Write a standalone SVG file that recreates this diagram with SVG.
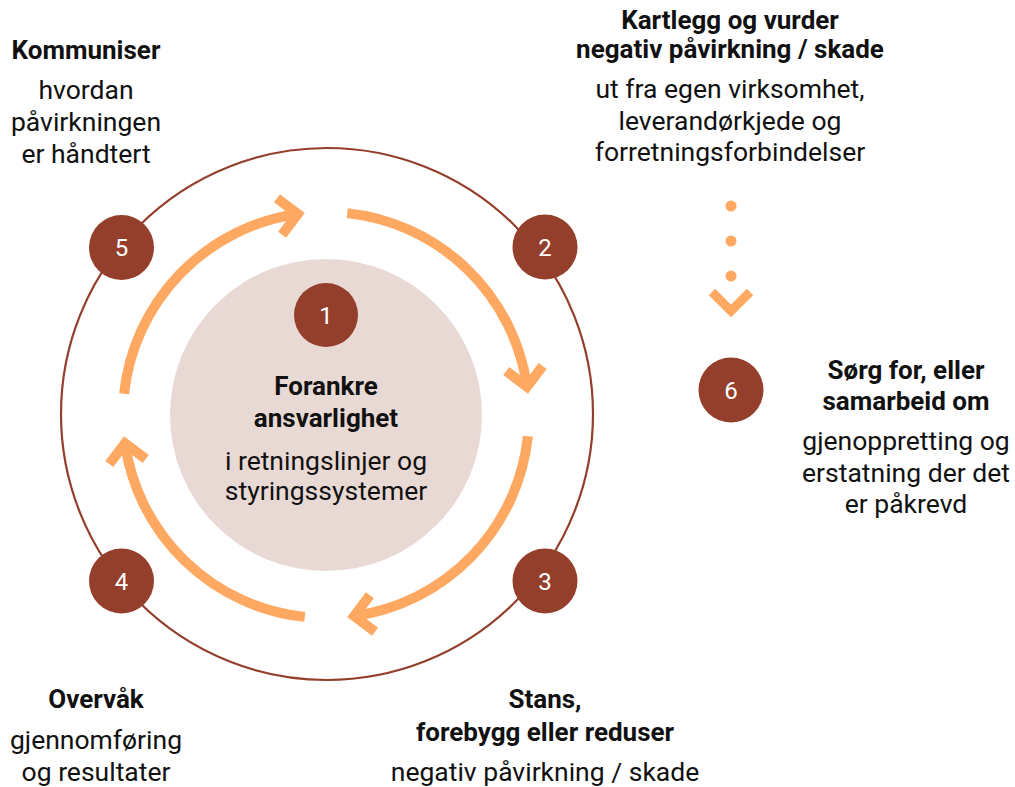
<svg xmlns="http://www.w3.org/2000/svg" width="1015" height="787" viewBox="0 0 1015 787">
<style>
text{font-family:Roboto,"Liberation Sans",sans-serif;fill:#111;text-anchor:middle}
.b{font-weight:700;font-size:26px}
.r{font-size:26.5px}
.n{fill:#fff;font-size:24px}
.badge{fill:#943F2B}
.arc{fill:none;stroke:#FFA862;stroke-width:10}
</style>
<defs>
<g id="arrow">
<path class="arc" d="M347.22 213.11 A203 203 0 0 1 527.02 386.75"/>
<path class="arc" stroke-linejoin="miter" d="M542.67 365.98 L527.02 386.75 L506.25 371.10"/>
</g>
</defs>
<rect width="1015" height="787" fill="#fff"/>
<circle cx="327" cy="414" r="266" fill="none" stroke="#943F2B" stroke-width="2.2"/>
<g id="center">
<circle cx="326" cy="415" r="156" fill="#E9D9D5"/>
<circle class="badge" cx="326" cy="315" r="32"/>
<text class="n" x="326" y="324">1</text>
<text class="b" x="326" y="395">Forankre</text>
<text class="b" x="326" y="427">ansvarlighet</text>
<text class="r" x="326" y="470">i retningslinjer og</text>
<text class="r" x="326" y="500">styringssystemer</text>
</g>
<g id="connectors">
<use href="#arrow"/>
<use href="#arrow" transform="rotate(90 326 415)"/>
<use href="#arrow" transform="rotate(180 326 415)"/>
<use href="#arrow" transform="rotate(270 326 415)"/>
<g id="dotted" fill="#FFA862">
<circle cx="731" cy="206" r="5.5"/>
<circle cx="731" cy="241" r="5.5"/>
<circle cx="731" cy="276" r="5.5"/>
<path d="M712 292 L731 311 L750 292" fill="none" stroke="#FFA862" stroke-width="9"/>
</g>
</g>
<g id="step5">
<circle class="badge" cx="121.5" cy="247.5" r="32.5"/>
<text class="n" x="121.5" y="256">5</text>
<text class="b" x="86" y="59">Kommuniser</text>
<text class="r" x="86" y="99">hvordan</text>
<text class="r" x="86" y="131">påvirkningen</text>
<text class="r" x="86" y="163">er håndtert</text>
</g>
<g id="step2">
<circle class="badge" cx="545" cy="247" r="32.5"/>
<text class="n" x="545" y="256">2</text>
<text class="b" x="730" y="29">Kartlegg og vurder</text>
<text class="b" x="730" y="58">negativ påvirkning / skade</text>
<text class="r" x="730" y="98">ut fra egen virksomhet,</text>
<text class="r" x="730" y="130">leverandørkjede og</text>
<text class="r" x="730" y="161">forretningsforbindelser</text>
</g>
<g id="step3">
<circle class="badge" cx="545" cy="581" r="32.5"/>
<text class="n" x="545" y="590">3</text>
<text class="b" x="545" y="708">Stans,</text>
<text class="b" x="545" y="741">forebygg eller reduser</text>
<text class="r" x="545" y="781">negativ påvirkning / skade</text>
</g>
<g id="step4">
<circle class="badge" cx="121.5" cy="581" r="32.5"/>
<text class="n" x="121.5" y="590">4</text>
<text class="b" x="96" y="708">Overvåk</text>
<text class="r" x="96" y="749">gjennomføring</text>
<text class="r" x="96" y="781">og resultater</text>
</g>
<g id="step6">
<circle class="badge" cx="731" cy="390" r="32.5"/>
<text class="n" x="731" y="399">6</text>
<text class="b" x="906" y="379">Sørg for, eller</text>
<text class="b" x="906" y="410">samarbeid om</text>
<text class="r" x="906" y="450">gjenoppretting og</text>
<text class="r" x="906" y="482">erstatning der det</text>
<text class="r" x="906" y="513">er påkrevd</text>
</g>
</svg>
